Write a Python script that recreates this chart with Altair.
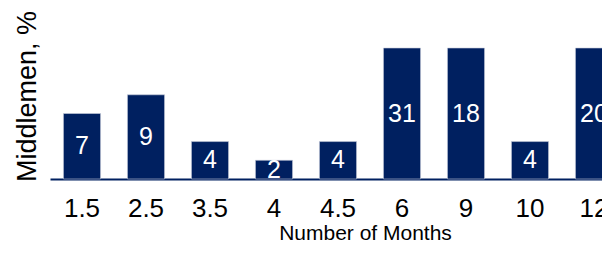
import altair as alt
import pandas as pd

months = ["1.5", "2.5", "3.5", "4", "4.5", "6", "9", "10", "12"]
values = [7, 9, 4, 2, 4, 31, 18, 4, 20]
y_max = 14

df = pd.DataFrame({"months": months, "value": values})

NAVY = "#002060"
FONT = "Liberation Sans"

x_enc = alt.X(
    "months:N",
    sort=months,
    title="Number of Months",
    scale=alt.Scale(range=[0, 576], paddingInner=0.42, paddingOuter=0.21),
    axis=alt.Axis(
        labelAngle=0, ticks=False, grid=False,
        domainColor=NAVY, domainWidth=2,
        labelFont=FONT, labelFontSize=26, labelColor="black",
        labelBaseline="alphabetic", labelPadding=37,
        titleFont=FONT, titleFontSize=21, titleFontWeight="normal", titleColor="black",
        titleX=315, titleY=60, titleAlign="center", titleBaseline="alphabetic",
    ),
)

y_scale = alt.Scale(domain=[0, y_max], clamp=True)

bars = alt.Chart(df).mark_bar(color=NAVY, stroke="#c9cfdb", strokeWidth=0.6).encode(
    x=x_enc,
    y=alt.Y(
        "value:Q",
        scale=y_scale,
        title="Middlemen, %",
        axis=alt.Axis(
            labels=False, ticks=False, domain=False, grid=False,
            titleFont=FONT, titleFontSize=27, titleFontWeight="normal", titleColor="black",
            titleAngle=270, titleX=-15, titleY=48, titleAlign="center", titleBaseline="alphabetic",
        ),
    ),
)

labels = alt.Chart(df).transform_calculate(
    mid=f"min(datum.value, {y_max}) / 2"
).mark_text(
    color="white", font=FONT, fontSize=25, baseline="middle", align="center"
).encode(
    x=alt.X("months:N", sort=months),
    y=alt.Y("mid:Q", scale=y_scale),
    text=alt.Text("value:Q"),
)

chart = (bars + labels).properties(
    width=552,
    height=131,
    autosize=alt.AutoSizeParams(type="none"),
    padding={"left": 42, "top": 40, "right": 0, "bottom": 66},
    background="white",
).configure_view(stroke=None)

chart.save("out.html", embed_options={"renderer": "svg", "actions": False})
